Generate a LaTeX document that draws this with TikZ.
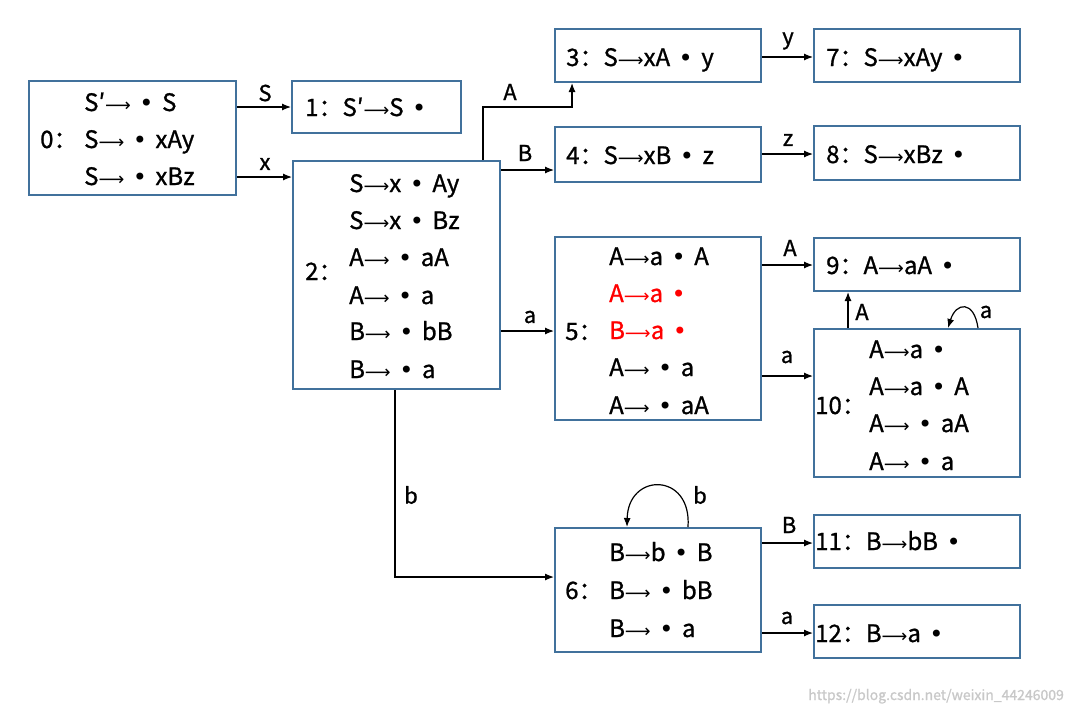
\documentclass[tikz,border=0pt]{standalone}
\usepackage{fontspec}
\setmainfont{Noto Sans CJK SC}[UprightFeatures={FakeBold=1.0}]
\newfontfamily\dvs{DejaVu Sans}
\newcommand\bu{\hspace{8.5pt}{\dvs •}\hspace{8.5pt}}
\newcommand\bue{\hspace{8.5pt}{\dvs •}}
\newcommand\ra{{\dvs\fontsize{18}{18}\selectfont ⟶}}
\usetikzlibrary{arrows.meta}
\definecolor{boxblue}{HTML}{41719C}
\definecolor{wm}{HTML}{C8C8C8}
\begin{document}
\begin{tikzpicture}[x=1pt,y=-1pt,
  box/.style={draw=boxblue,line width=2pt,inner sep=0pt},
  tx/.style={anchor=base west,inner sep=0pt,font=\fontsize{24}{24}\selectfont},
  edge/.style={-{Latex[length=9pt,width=7pt]},line width=1.2pt},
  elab/.style={inner sep=0pt,font=\fontsize{22}{22}\selectfont}]
\useasboundingbox (0,0) rectangle (1073,715);
% boxes
\node[box,minimum width=207pt,minimum height=114pt] (b0) at (132.5,138) {};
\node[box,minimum width=169pt,minimum height=52pt] (b1) at (376.5,107) {};
\node[box,minimum width=207pt,minimum height=228pt] (b2) at (396.5,275) {};
\node[box,minimum width=206pt,minimum height=53pt] (b3) at (658,55.5) {};
\node[box,minimum width=206pt,minimum height=55pt] (b4) at (658,154.5) {};
\node[box,minimum width=206pt,minimum height=183pt] (b5) at (658,328.5) {};
\node[box,minimum width=206pt,minimum height=124pt] (b6) at (658,590) {};
\node[box,minimum width=206pt,minimum height=53pt] (b7) at (917,55.5) {};
\node[box,minimum width=206pt,minimum height=54pt] (b8) at (917,153) {};
\node[box,minimum width=206pt,minimum height=53pt] (b9) at (917,264.5) {};
\node[box,minimum width=206pt,minimum height=148pt] (b10) at (917,403) {};
\node[box,minimum width=206pt,minimum height=53pt] (b11) at (917,541.5) {};
\node[box,minimum width=206pt,minimum height=53pt] (b12) at (917,631.5) {};
% texts box 0
\node[tx] (t0a) at (84,111) {S′\ra\bu S};
\node[tx] (t0b) at (40,148) {0：};
\node[tx] (t0c) at (84,148) {S\ra\bu xAy};
\node[tx] (t0d) at (84,185) {S\ra\bu xBz};
% box 1
\node[tx] (t1) at (305,116) {1：S′\ra S\bue};
% box 2
\node[tx] (t2) at (305,280) {2：};
\node[tx] (t2a) at (349,192) {S\ra x\bu Ay};
\node[tx] (t2b) at (349,229) {S\ra x\bu Bz};
\node[tx] (t2c) at (349,266) {A\ra\bu aA};
\node[tx] (t2d) at (349,304) {A\ra\bu a};
\node[tx] (t2e) at (349,340) {B\ra\bu bB};
\node[tx] (t2f) at (349,378) {B\ra\bu a};
% box 3,4,7,8
\node[tx] (t3) at (566,66) {3：S\ra xA\bu y};
\node[tx] (t4) at (566,164) {4：S\ra xB\bu z};
\node[tx] (t7) at (826,66) {7：S\ra xAy\bue};
\node[tx] (t8) at (826,163) {8：S\ra xBz\bue};
% box 5
\node[tx] (t5) at (565,340) {5：};
\node[tx] (t5a) at (609,265) {A\ra a\bu A};
\node[tx,text=red] (t5b) at (609,302) {A\ra a\bue};
\node[tx,text=red] (t5c) at (609,339) {B\ra a\bue};
\node[tx] (t5d) at (609,376) {A\ra\bu a};
\node[tx] (t5e) at (609,414) {A\ra\bu aA};
% box 6
\node[tx] (t6) at (565,599) {6：};
\node[tx] (t6a) at (609,561) {B\ra b\bu B};
\node[tx] (t6b) at (609,599) {B\ra\bu bB};
\node[tx] (t6c) at (609,637) {B\ra\bu a};
% box 9
\node[tx] (t9) at (826,274) {9：A\ra aA\bue};
% box 10
\node[tx] (t10) at (815,414) {10：};
\node[tx] (t10a) at (869,358) {A\ra a\bue};
\node[tx] (t10b) at (869,395) {A\ra a\bu A};
\node[tx] (t10c) at (869,432) {A\ra\bu aA};
\node[tx] (t10d) at (869,470) {A\ra\bu a};
% box 11, 12
\node[tx] (t11) at (815,550) {11：B\ra bB\bue};
\node[tx] (t12) at (815,642) {12：B\ra a\bue};
% edges
\draw[edge] (b0.east |- 0,107) -- (b1.west |- 0,107);
\node[elab] (l01) at (265,93) {S};
\draw[edge] (b0.east |- 0,177) -- (b2.west |- 0,177);
\node[elab] (l02) at (265,164) {x};
\draw[edge] (b2.north -| 483,0) -- (483,107) -- (572,107) -- (b3.south -| 572,0);
\node[elab] (l23) at (510,92) {A};
\draw[edge] (b2.east |- 0,170) -- (b4.west |- 0,170);
\node[elab] (l24) at (525,153) {B};
\draw[edge] (b2.east |- 0,331) -- (b5.west |- 0,331);
\node[elab] (l25) at (530,317) {a};
\draw[edge] (b2.south -| 395,0) -- (395,577) -- (b6.west |- 0,577);
\node[elab] (l26) at (411,495) {b};
\draw[edge] (b3.east |- 0,57) -- (b7.west |- 0,57);
\node[elab] (l37) at (788,41) {y};
\draw[edge] (b4.east |- 0,154) -- (b8.west |- 0,154);
\node[elab] (l48) at (788,140) {z};
\draw[edge] (b5.east |- 0,265) -- (b9.west |- 0,265);
\node[elab] (l59) at (790,248) {A};
\draw[edge] (b5.east |- 0,376) -- (b10.west |- 0,376);
\node[elab] (l510) at (787,357) {a};
\draw[edge] (b10.north -| 848,0) -- (b9.south -| 848,0);
\node[elab] (l109) at (862,312) {A};
\draw[edge] (b10.north -| 978,0) .. controls (974,300) and (956,302) .. (b10.north -| 948,0);
\node[elab] (l1010) at (986,312) {a};
\draw[edge] (b6.north -| 688,0) .. controls (692,472) and (628,472) .. (b6.north -| 627,0);
\node[elab] (l66) at (700,495) {b};
\draw[edge] (b6.east |- 0,543) -- (b11.west |- 0,543);
\node[elab] (l611) at (789,525) {B};
\draw[edge] (b6.east |- 0,633) -- (b12.west |- 0,633);
\node[elab] (l612) at (787,618) {a};
% watermark
\node[anchor=base east,inner sep=0pt,text=wm,font=\fontsize{14}{14}\selectfont] (wmk) at (1064,700) {https://blog.csdn.net/weixin\_44246009};
\end{tikzpicture}
\end{document}
